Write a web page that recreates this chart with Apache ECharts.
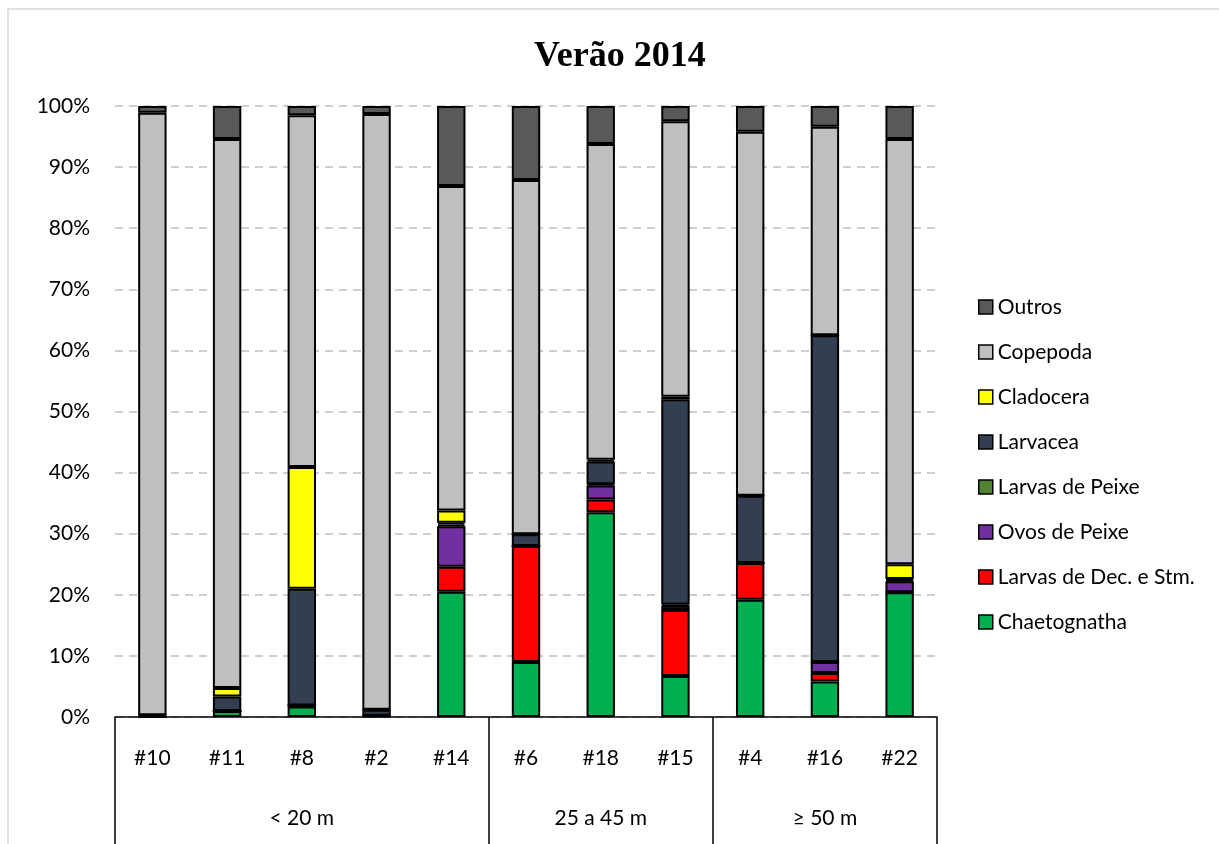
<!DOCTYPE html>
<html>
<head>
<meta charset="utf-8">
<title>Verão 2014</title>
<script src="https://cdn.jsdelivr.net/npm/echarts@6/dist/echarts.min.js"></script>
<style>
    html, body { margin: 0; padding: 0; background: #fff; }
    #main { width: 1219px; height: 844px; }
</style>
</head>
<body>
<div id="main"></div>
<script>
// estações (ordem do eixo X)
var stations = ['#10', '#11', '#8', '#2', '#14', '#6', '#18', '#15', '#4', '#16', '#22'];
// faixas de profundidade e quantas estações em cada uma
var depthGroups = ['< 20 m', '25 a 45 m', '≥ 50 m'];
var groupSizes = [5, 3, 3];
var yTicks = [0, 10, 20, 30, 40, 50, 60, 70, 80, 90, 100];

// abundância relativa (%) por grupo, de baixo para cima
var chaetognatha = [0, 1.0, 1.7, 0.2, 20.5, 9.0, 33.5, 6.7, 19.2, 5.8, 20.4];
var larvasDec = [0, 0, 0.2, 0, 4.1, 19.0, 2.1, 10.8, 6.0, 1.4, 0];
var ovosPeixe = [0, 0, 0, 0, 6.6, 0, 2.3, 0.7, 0, 1.8, 1.8];
var larvasPeixe = [0, 0, 0, 0, 0.3, 0, 0.2, 0.2, 0, 0, 0.2];
var larvacea = [0.3, 2.35, 19.1, 1.0, 0.3, 1.9, 3.7, 33.6, 11.0, 53.5, 0.2];
var cladocera = [0, 1.4, 19.9, 0, 2.0, 0, 0.3, 0.4, 0, 0, 2.4];
var copepoda = [98.6, 89.85, 57.6, 97.5, 53.1, 58.0, 51.7, 45.1, 59.6, 34.1, 69.6];
var outros = [1.1, 5.4, 1.5, 1.3, 13.1, 12.1, 6.2, 2.5, 4.2, 3.4, 5.4];

var layers = [
    ['Chaetognatha', chaetognatha, '#00b050'],
    ['Larvas de Dec. e Stm.', larvasDec, '#ff0000'],
    ['Ovos de Peixe', ovosPeixe, '#7030a0'],
    ['Larvas de Peixe', larvasPeixe, '#548235'],
    ['Larvacea', larvacea, '#333f50'],
    ['Cladocera', cladocera, '#ffff00'],
    ['Copepoda', copepoda, '#bfbfbf'],
    ['Outros', outros, '#595959']
];

var font = 'Lato';

// índices onde começa cada faixa e onde fica o rótulo dela
var groupStarts = [];
var groupCenters = {};
var start = 0;
groupSizes.forEach(function (size, i) {
    groupStarts.push(start);
    groupCenters[start + Math.floor((size - 1) / 2)] = depthGroups[i];
    start += size;
});

var series = layers.map(function (item) {
    return {
        name: item[0],
        type: 'bar',
        stack: 'total',
        barWidth: '38%',
        xAxisIndex: 0,
        itemStyle: {
            color: item[2],
            borderColor: '#000',
            borderWidth: 2
        },
        data: item[1]
    };
});

var myChart = echarts.init(document.getElementById('main'));

var option = {
    backgroundColor: '#fff',
    animation: false,
    title: {
        text: 'Verão 2014',
        left: 529,
        top: 34,
        textStyle: {
            fontFamily: 'Liberation Serif',
            fontWeight: 'bold',
            fontSize: 36,
            color: '#000'
        }
    },
    graphic: [{
        type: 'rect',
        silent: true,
        shape: { x: 8, y: 9, width: 1400, height: 1000 },
        style: { fill: 'none', stroke: '#d9d9d9', lineWidth: 1.5 }
    }],
    legend: {
        orient: 'vertical',
        left: 978,
        top: 295,
        padding: 0,
        itemWidth: 14,
        itemHeight: 14,
        itemGap: 21,
        icon: 'rect',
        data: layers.map(function (l) { return l[0]; }).reverse(),
        itemStyle: { borderColor: '#000', borderWidth: 1.5 },
        textStyle: {
            fontFamily: font,
            fontSize: 21,
            lineHeight: 24,
            color: '#000'
        }
    },
    grid: {
        left: 115,
        right: 282,
        top: 106,
        bottom: 127,
        containLabel: false
    },
    xAxis: [{
        type: 'category',
        data: stations,
        position: 'bottom',
        axisLine: { lineStyle: { color: '#000', width: 1.5 } },
        axisTick: {
            show: true,
            length: 140,
            interval: function (index) { return groupStarts.indexOf(index) >= 0; },
            lineStyle: { color: '#000', width: 1.5 }
        },
        axisLabel: {
            interval: 0,
            margin: 31,
            fontFamily: font,
            fontSize: 21,
            color: '#000'
        },
        splitLine: { show: false }
    }, {
        type: 'category',
        data: stations,
        position: 'bottom',
        axisLine: { show: false },
        axisTick: { show: false },
        axisLabel: {
            interval: 0,
            margin: 91,
            fontFamily: font,
            fontSize: 21,
            color: '#000',
            formatter: function (value, index) {
                return groupCenters[index] || '';
            }
        },
        splitLine: { show: false }
    }],
    yAxis: {
        type: 'value',
        min: yTicks[0],
        max: yTicks[yTicks.length - 1],
        interval: yTicks[1] - yTicks[0],
        axisLine: { show: false },
        axisTick: { show: false },
        axisLabel: {
            margin: 25,
            fontFamily: font,
            fontSize: 21,
            color: '#000',
            formatter: '{value}%'
        },
        splitLine: {
            lineStyle: { color: '#bfbfbf', width: 1.5, type: [8, 6] }
        }
    },
    series: series
};

myChart.setOption(option);
</script>
</body>
</html>
